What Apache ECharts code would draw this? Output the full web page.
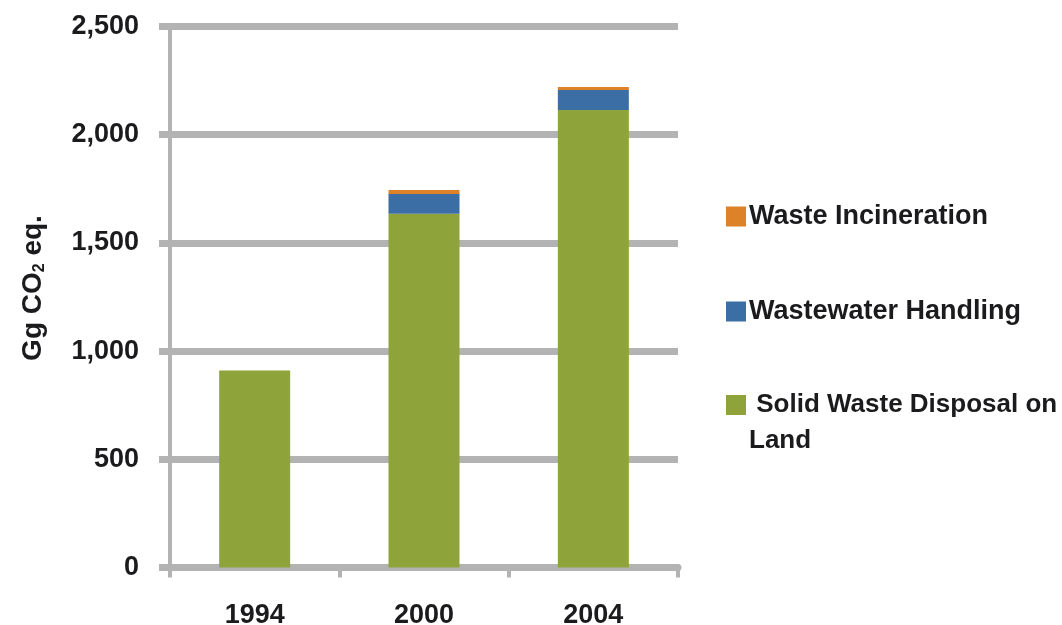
<!DOCTYPE html>
<html>
<head>
<meta charset="utf-8">
<script src="https://cdn.jsdelivr.net/npm/echarts@6/dist/echarts.min.js"></script>
<style>
  html, body { margin: 0; padding: 0; background: #ffffff; }
  #chart { width: 1062px; height: 625px; }
</style>
</head>
<body>
<div id="chart"></div>
<script>
// Waste sector emissions, Gg CO2 eq.
const years = ['1994', '2000', '2004'];
const solidWaste = [910, 1635, 2114];
const wastewater = [0, 91, 93];
const incineration = [0, 18, 14];
const yTicks = [0, 500, 1000, 1500, 2000, 2500];

const seriesNames = ['Solid Waste Disposal on Land', 'Wastewater Handling', 'Waste Incineration'];
const colors = ['#8ea33a', '#3b6ea5', '#dd8229'];

const gray = '#b3b3b3';
const ink = '#1b1b1d';
const font = '"Liberation Sans", Arial, sans-serif';

const chart = echarts.init(document.getElementById('chart'));

function legendAt(name, top, textExtra, formatter) {
  const l = {
    orient: 'vertical',
    left: 726,
    top: top,
    padding: 0,
    itemWidth: 20,
    itemHeight: 20,
    itemGap: 0,
    icon: 'rect',
    selectedMode: false,
    data: [name],
    textStyle: Object.assign({
      color: ink,
      fontFamily: font,
      fontWeight: 'bold',
      fontSize: 27,
      padding: [0, 0, 0, -2]
    }, textExtra || {})
  };
  if (formatter) l.formatter = formatter;
  return l;
}

chart.setOption({
  animation: false,
  backgroundColor: '#ffffff',
  color: colors,
  grid: {
    left: 170, right: 384, top: 26.5, bottom: 57.5,
    containLabel: false,
    outerBoundsMode: 'none'
  },
  legend: [
    legendAt(seriesNames[2], 203),
    legendAt(seriesNames[1], 298),
    // long label wraps onto a second line; a blank first line keeps the
    // swatch level with "Solid Waste Disposal on"
    legendAt(seriesNames[0], 351, { fontSize: 26, lineHeight: 36 },
      () => ' \n Solid Waste Disposal on\nLand')
  ],
  xAxis: {
    type: 'category',
    data: years,
    axisLine: { lineStyle: { color: gray, width: 7 } },
    axisTick: { show: true, length: 10, lineStyle: { color: gray, width: 4 } },
    axisLabel: { color: ink, fontFamily: font, fontWeight: 'bold', fontSize: 27, margin: 35 }
  },
  yAxis: {
    type: 'value',
    min: yTicks[0],
    max: yTicks[yTicks.length - 1],
    interval: yTicks[1] - yTicks[0],
    name: '{a|Gg CO}{s|2}{a| eq.}',
    nameLocation: 'middle',
    nameRotate: 90,
    nameGap: 122,
    nameTextStyle: {
      padding: [0, 0, 0, 18],
      rich: {
        a: { color: ink, fontFamily: font, fontWeight: 'bold', fontSize: 28 },
        s: { color: ink, fontFamily: font, fontWeight: 'bold', fontSize: 16, verticalAlign: 'bottom', padding: [13, 0, 0, 0] }
      }
    },
    axisLine: { show: true, lineStyle: { color: gray, width: 4 } },
    axisTick: { show: true, length: 11, lineStyle: { color: gray, width: 7 } },
    splitLine: { show: true, lineStyle: { color: gray, width: 7 } },
    axisLabel: {
      color: ink, fontFamily: font, fontWeight: 'bold', fontSize: 27, margin: 31,
      formatter: v => v.toLocaleString('en-US')
    }
  },
  series: [
    { name: seriesNames[0], type: 'bar', stack: 'total', barWidth: 71, data: solidWaste },
    { name: seriesNames[1], type: 'bar', stack: 'total', barWidth: 71, data: wastewater },
    { name: seriesNames[2], type: 'bar', stack: 'total', barWidth: 71, data: incineration }
  ]
});
</script>
</body>
</html>
